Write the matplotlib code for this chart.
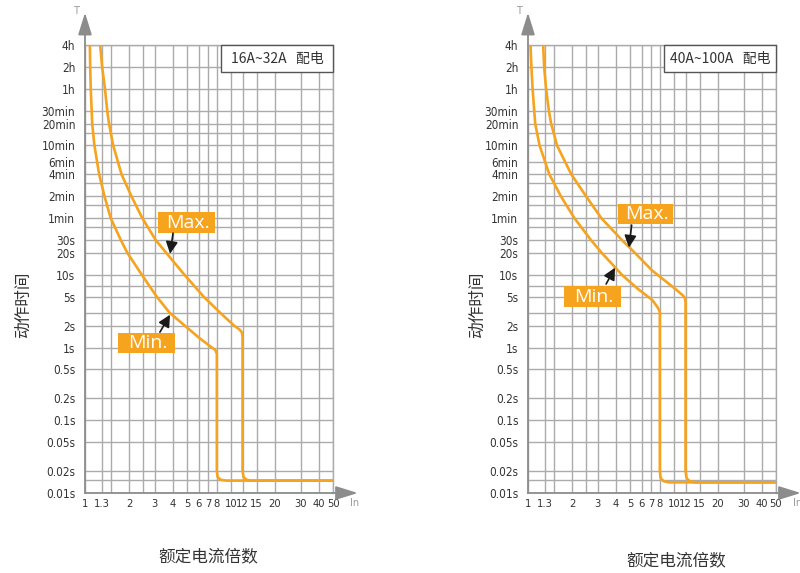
import matplotlib
matplotlib.use("Agg")
import matplotlib.pyplot as plt
from matplotlib.patches import Rectangle
from matplotlib.ticker import NullFormatter

plt.rcParams['font.family'] = ['Noto Sans CJK SC', 'DejaVu Sans']

# ---- data (current multiple In, trip time in seconds) ----
# 16A~32A panel
min_I_16 = [1.08, 1.085, 1.095, 1.12, 1.16, 1.25, 1.36, 1.50, 1.76, 1.95, 2.45, 3.10, 3.80,
            6.1, 7.3, 7.8, 8.0, 8.0, 8.1, 8.5, 9.3, 50]
min_t_16 = [14400, 7200, 3600, 1200, 600, 240, 120, 60, 30, 20, 10, 5, 3.0,
            1.34, 1.02, 0.93, 0.82, 0.02, 0.0165, 0.0152, 0.0148, 0.0148]
max_I_16 = [1.27, 1.31, 1.37, 1.42, 1.46, 1.56, 1.78, 2.08, 2.47, 3.05, 3.6, 4.8, 6.5, 8.3,
            10.5, 11.5, 11.9, 12.0, 12.0, 12.2, 12.8, 13.7, 50]
max_t_16 = [14400, 7200, 3600, 1800, 1200, 600, 240, 120, 60, 30, 20, 10, 5, 3.1,
            2.0, 1.75, 1.6, 1.4, 0.02, 0.0165, 0.0152, 0.0148, 0.0148]

# 40A~100A panel
min_I_40 = [1.04, 1.055, 1.075, 1.12, 1.20, 1.40, 1.68, 2.08, 2.70, 3.2, 4.4, 5.6, 7.1,
            7.7, 8.0, 8.0, 8.1, 8.5, 9.3, 50]
min_t_40 = [14400, 7200, 3600, 1200, 600, 240, 120, 60, 30, 20, 10, 6.5, 4.5,
            3.6, 3.1, 0.02, 0.016, 0.0145, 0.014, 0.014]
max_I_40 = [1.27, 1.29, 1.33, 1.39, 1.44, 1.58, 1.98, 2.5, 3.18, 4.4, 5.4, 7.1, 10.4, 11.5,
            11.9, 12.0, 12.0, 12.2, 12.8, 14.1, 50]
max_t_40 = [14400, 7200, 3600, 1800, 1200, 600, 240, 120, 60, 30, 20, 11.4, 6.2, 5.2,
            4.8, 4.2, 0.02, 0.016, 0.0145, 0.014, 0.014]

# ticks
x_ticks = [1, 1.3, 2, 3, 4, 5, 6, 7, 8, 10, 12, 15, 20, 30, 40, 50]
x_labels = ['1', '1.3', '2', '3', '4', '5', '6', '7', '8', '10', '12', '15', '20', '30', '40', '50']
x_minor = [1.5, 2.5]
y_ticks = [14400, 7200, 3600, 1800, 1200, 600, 360, 240, 120, 60, 30, 20, 10, 5, 2, 1,
           0.5, 0.2, 0.1, 0.05, 0.02, 0.01]
y_labels = ['4h', '2h', '1h', '30min', '20min', '10min', '6min', '4min', '2min', '1min',
            '30s', '20s', '10s', '5s', '2s', '1s', '0.5s', '0.2s', '0.1s', '0.05s',
            '0.02s', '0.01s']
y_minor = [900, 180, 90, 45, 7, 3, 0.015]

titles = ['16A~32A   配电', '40A~100A   配电']

orange = '#F6A31E'
grid_c = '#ababab'
axis_c = '#8c8c8c'
txt_c = '#333333'

fig = plt.figure(figsize=(8, 5.73), dpi=100)
ax1 = fig.add_axes([85 / 800, 80 / 573, 248 / 800, 448 / 573])
ax2 = fig.add_axes([528 / 800, 80 / 573, 248 / 800, 448 / 573])

panels = [
    (ax1, min_I_16, min_t_16, max_I_16, max_t_16),
    (ax2, min_I_40, min_t_40, max_I_40, max_t_40),
]

# label boxes (axes fraction): (x0, x1, y0, y1), arrow start, arrow tip
max_boxes = [((0.294, 0.524, 0.580, 0.627), (0.355, 0.580), (0.343, 0.534)),
             ((0.363, 0.585, 0.600, 0.645), (0.418, 0.598), (0.407, 0.548))]
min_boxes = [((0.133, 0.363, 0.3125, 0.357), (0.302, 0.359), (0.343, 0.398)),
             ((0.145, 0.375, 0.415, 0.462), (0.315, 0.4665), (0.351, 0.503))]

for i, (ax, mi, mt, xi, xt) in enumerate(panels):
    ax.set_xscale('log')
    ax.set_yscale('log')
    ax.set_xlim(1, 50)
    ax.set_ylim(0.01, 14400)

    ax.set_xticks(x_ticks, x_labels)
    ax.set_xticks(x_minor, minor=True)
    ax.set_yticks(y_ticks, y_labels)
    ax.set_yticks(y_minor, minor=True)
    ax.xaxis.set_minor_formatter(NullFormatter())
    ax.yaxis.set_minor_formatter(NullFormatter())
    ax.tick_params(which='both', length=0, labelcolor=txt_c)
    ax.tick_params(axis='y', pad=7, labelsize=8.5)
    ax.tick_params(axis='x', pad=4, labelsize=8)
    for lbl in ax.get_xticklabels() + ax.get_yticklabels():
        lbl.set_family('DejaVu Sans')
        lbl.set_fontstretch('condensed')

    ax.grid(which='both', color=grid_c, lw=1.0)
    ax.set_axisbelow(True)

    for s in ['top', 'right']:
        ax.spines[s].set_color(grid_c)
        ax.spines[s].set_linewidth(1.0)
    for s in ['left', 'bottom']:
        ax.spines[s].set_color(axis_c)
        ax.spines[s].set_linewidth(1.3)

    # curves
    ax.plot(mi, mt, color=orange, lw=1.9, solid_joinstyle='round', zorder=3)
    ax.plot(xi, xt, color=orange, lw=1.9, solid_joinstyle='round', zorder=3)

    # axis arrows
    arr = dict(arrowstyle='-|>,head_length=0.9,head_width=0.28', color=axis_c,
               lw=1.3, mutation_scale=15, shrinkA=0, shrinkB=0)
    ax.annotate('', xy=(0, 1.072), xytext=(0, 1.0), xycoords='axes fraction',
                arrowprops=arr, annotation_clip=False)
    ax.annotate('', xy=(1.10, 0), xytext=(1.0, 0), xycoords='axes fraction',
                arrowprops=arr, annotation_clip=False)
    ax.text(-0.035, 1.075, 'T', transform=ax.transAxes, fontsize=7, color='#999999',
            ha='center', va='center', family='DejaVu Sans')
    ax.text(1.085, -0.022, 'In', transform=ax.transAxes, fontsize=7, color='#999999',
            ha='center', va='center', family='DejaVu Sans')

    # title box
    ax.add_patch(Rectangle((0.548, 0.9397), 0.452, 0.0603, transform=ax.transAxes,
                           fc='white', ec='#555555', lw=1.0, zorder=4, clip_on=False))
    ax.text(0.774, 0.970, titles[i], transform=ax.transAxes, fontsize=10, color=txt_c,
            ha='center', va='center', zorder=5)

    # Max./Min. labels
    for name, (box, start, tip) in [('Max.', max_boxes[i]), ('Min.', min_boxes[i])]:
        x0, x1, y0, y1 = box
        ax.add_patch(Rectangle((x0, y0), x1 - x0, y1 - y0, transform=ax.transAxes,
                               fc=orange, ec='none', zorder=5))
        ax.text((x0 + x1) / 2 + 0.005, (y0 + y1) / 2, name, transform=ax.transAxes,
                fontsize=14, color='white', ha='center', va='center', zorder=6,
                family=['Open Sans', 'DejaVu Sans'])
        ax.annotate('', xy=tip, xytext=start, xycoords='axes fraction',
                    arrowprops=dict(arrowstyle='-|>,head_length=0.6,head_width=0.3',
                                    color='#1a1a1a', lw=1.2, mutation_scale=12,
                                    shrinkA=0, shrinkB=0), zorder=6)

# axis titles
fig.text(23 / 800, 1 - 305 / 573, '动作时间', rotation=90, fontsize=12, color=txt_c,
         ha='center', va='center')
fig.text(477 / 800, 1 - 305 / 573, '动作时间', rotation=90, fontsize=12, color=txt_c,
         ha='center', va='center')
fig.text(208 / 800, 1 - 557 / 573, '额定电流倍数', fontsize=12, color=txt_c,
         ha='center', va='center')
fig.text(676 / 800, 1 - 561 / 573, '额定电流倍数', fontsize=12, color=txt_c,
         ha='center', va='center')

fig.savefig('out.png', dpi=100, facecolor='white')
